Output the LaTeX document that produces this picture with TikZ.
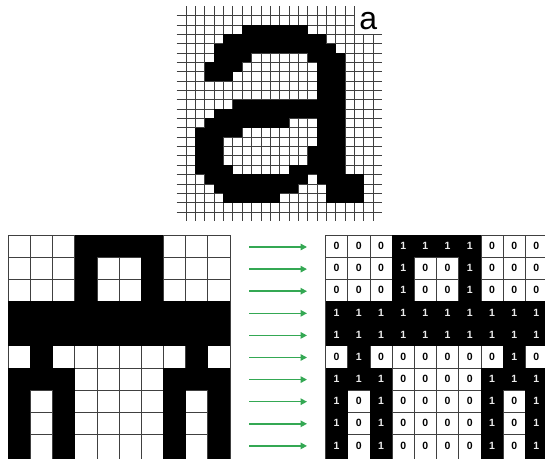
\documentclass[tikz,border=0pt]{standalone}
\usepackage{fontspec}
\setmainfont{Liberation Sans}
\usetikzlibrary{arrows.meta}
\definecolor{arrowgreen}{HTML}{34A853}

\tikzset{
  gridline/.style={black!75, line width=0.6pt},
  cellline/.style={black!75, line width=0.8pt},
  bitlabel/.style={font=\fontsize{10.5}{12}\selectfont\bfseries, inner sep=0pt},
  maparrow/.style={arrowgreen, line width=1.5pt, -{Triangle[length=6.5pt, width=6.5pt]}},
}

% rows of the small picture, 1 = black
\newcommand{\pixrows}{
  0/{0,0,0,1,1,1,1,0,0,0},
  1/{0,0,0,1,0,0,1,0,0,0},
  2/{0,0,0,1,0,0,1,0,0,0},
  3/{1,1,1,1,1,1,1,1,1,1},
  4/{1,1,1,1,1,1,1,1,1,1},
  5/{0,1,0,0,0,0,0,0,1,0},
  6/{1,1,1,0,0,0,0,1,1,1},
  7/{1,0,1,0,0,0,0,1,0,1},
  8/{1,0,1,0,0,0,0,1,0,1},
  9/{1,0,1,0,0,0,0,1,0,1}}

\begin{document}
\begin{tikzpicture}[x=1pt, y=-1pt]
  \useasboundingbox (0,0) rectangle (545,458);
  \clip (0,0) rectangle (545,458);

  % ── Top: the letter as a bitmap ───────────────────────────
  \begin{scope}[shift={(186,15.5)}, x=9.35pt, y=-9.35pt]
    \foreach \k in {0,...,20} \draw[gridline] (\k,-1) -- (\k,22);
    \foreach \j in {0,...,21} \draw[gridline] (-1,\j) -- (21,\j);
    % black runs: row/first/last column
    \foreach \r/\a/\b in {1/6/12, 2/4/14, 3/3/15, 4/3/6, 4/13/16,
      5/2/5, 5/14/16, 6/2/4, 6/14/16, 7/14/16, 8/14/16, 9/5/16,
      10/3/16, 11/2/10, 11/14/16, 12/1/5, 12/14/16, 13/1/3, 13/14/16,
      14/1/3, 14/13/16, 15/1/3, 15/13/16, 16/1/4, 16/11/16,
      17/2/12, 17/14/18, 18/3/11, 18/15/18, 19/4/9, 19/15/18}
      \fill (\a,\r) rectangle (\b+1,\r+1);
    \fill[white] (18.07,-1.2) rectangle (21.3,1.93);
    \node[font=\fontsize{32}{32}\selectfont, inner sep=0pt, anchor=base]
      (lettera) at (19.5,1.45) {a};
  \end{scope}

  % ── Bottom left: black and white cells ────────────────────
  \begin{scope}[shift={(8.3,235)}, x=22.17pt, y=-22.15pt]
    \foreach \k in {0,...,10} \draw[cellline] (\k,0) -- (\k,10.5);
    \foreach \j in {0,...,9} \draw[cellline] (0,\j) -- (10,\j);
    \foreach \r/\row in \pixrows {
      \foreach \v [count=\c from 0] in \row {
        \pgfmathsetmacro\h{\r==9 ? 1.4 : 1}
        \ifnum\v=1 \fill (\c,\r) rectangle (\c+1,\r+\h); \fi
      }
    }
  \end{scope}

  % ── Arrows ────────────────────────────────────────────────
  \foreach \i in {0,...,9}{
    \coordinate (from\i) at (249, 247+22.1*\i);
    \coordinate (to\i) at (307, 247+22.1*\i);
    \draw[maparrow] (from\i) -- (to\i);
  }

  % ── Bottom right: the same cells as numbers ───────────────
  \begin{scope}[shift={(325.5,235)}, x=22.2pt, y=-22.15pt]
    \foreach \k in {0,...,10} \draw[cellline] (\k,0) -- (\k,10.5);
    \foreach \j in {0,...,9} \draw[cellline] (0,\j) -- (10,\j);
    \foreach \r/\row in \pixrows {
      \foreach \v [count=\c from 0] in \row {
        \pgfmathsetmacro\h{\r==9 ? 1.4 : 1}
        \ifnum\v=1
          \fill (\c,\r) rectangle (\c+1,\r+\h);
          \node[bitlabel, text=white!92!black] (bit\r-\c) at (\c+0.5,\r+0.5) {1};
        \else
          \node[bitlabel] (bit\r-\c) at (\c+0.5,\r+0.5) {0};
        \fi
      }
    }
  \end{scope}
\end{tikzpicture}
\end{document}
